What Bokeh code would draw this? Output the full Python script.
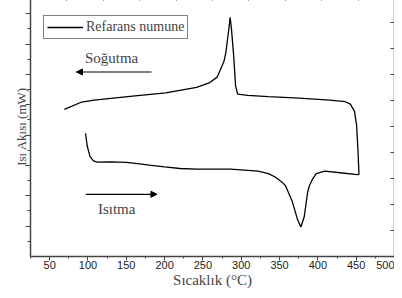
from bokeh.plotting import figure
from bokeh.models import (Range1d, LinearAxis, FixedTicker, Arrow, NormalHead,
                          Label, Legend, LegendItem, CustomJSTickFormatter)
from bokeh.embed import file_html
from bokeh.resources import INLINE

# ---- data ----
heat_x = [96.8, 99.0, 102.6, 107.0, 112.4, 130.0, 150.0, 165.0, 180.0, 200.0,
          220.0, 242.0, 285.9, 322.0, 335.4, 344.4, 353.2, 357.8, 366.6, 373.3,
          377.8, 382.2, 386.6, 388.9, 393.3, 397.9, 409.0, 429.1, 451.4, 453.6]
heat_y = [4.06, 3.64, 3.30, 3.15, 3.11, 3.12, 3.10, 3.06, 3.01, 2.95,
          2.90, 2.88, 2.88, 2.81, 2.73, 2.62, 2.45, 2.33, 1.81, 1.23,
          0.97, 1.31, 2.11, 2.33, 2.56, 2.73, 2.81, 2.76, 2.70, 2.71]
cool_x = [453.6, 452.3, 450.5, 447.8, 442.4, 435.8, 415.7, 375.5, 335.4, 308.6,
          295.3, 292.6, 290.0, 287.2, 285.5, 283.9, 281.9, 279.9, 277.5, 272.5,
          268.5, 259.1, 241.7, 201.6, 161.5, 108.0, 91.9, 69.2]
cool_y = [2.73, 3.52, 4.33, 4.78, 5.02, 5.10, 5.15, 5.22, 5.27, 5.31,
          5.35, 5.63, 6.66, 7.51, 7.88, 7.51, 7.11, 6.72, 6.43, 6.14,
          5.91, 5.73, 5.57, 5.39, 5.29, 5.15, 5.09, 4.85]
x_ticks = [50, 100, 150, 200, 250, 300, 350, 400, 450, 500]
x_minor = [25, 75, 125, 175, 225, 275, 325, 375, 425, 475]
series_label = "Refarans numune"

X_MIN, X_MAX = 25, 500
Y_MIN, Y_MAX = 0, 8.567

SERIF = "Liberation Serif"
SANS = "Liberation Sans"
AX = "#444444"
blank = CustomJSTickFormatter(code="return ''")

p = figure(width=402, height=298, x_range=Range1d(X_MIN, X_MAX),
           y_range=Range1d(Y_MIN, Y_MAX), output_backend="svg",
           toolbar_location=None, min_border_left=38, min_border_right=0,
           min_border_top=4, min_border_bottom=0)
p.styles = {"margin-top": "-8px", "margin-left": "-8px", "margin-bottom": "-8px"}
p.grid.visible = False
p.outline_line_color = None
p.background_fill_color = "white"

# bottom axis
xa = p.xaxis[0]
xa.ticker = FixedTicker(ticks=x_ticks, minor_ticks=x_minor)
xa.major_tick_in = 0
xa.major_tick_out = 4
xa.minor_tick_in = 0
xa.minor_tick_out = 2
xa.axis_line_color = AX
xa.axis_line_width = 1.5
xa.major_tick_line_color = AX
xa.minor_tick_line_color = AX
xa.major_label_text_font = SANS
xa.major_label_text_font_size = "11px"
xa.major_label_text_color = "#222222"
xa.major_label_standoff = 0
xa.axis_label = "Sıcaklık (°C)"
xa.axis_label_text_font = SERIF
xa.axis_label_text_font_style = "normal"
xa.axis_label_text_font_size = "15px"
xa.axis_label_standoff = 0

# left axis
ya = p.yaxis[0]
ya.ticker = FixedTicker(ticks=[1, 2, 3, 4, 5, 6, 7, 8],
                        minor_ticks=[0.5, 1.5, 2.5, 3.5, 4.5, 5.5, 6.5, 7.5, 8.5])
ya.formatter = blank
ya.major_tick_in = 0
ya.major_tick_out = 5
ya.minor_tick_in = 0
ya.minor_tick_out = 3
ya.axis_line_color = AX
ya.axis_line_width = 1.5
ya.major_tick_line_color = AX
ya.minor_tick_line_color = AX
ya.major_label_standoff = 0
ya.axis_label = "Isı Akısı (mW)"
ya.axis_label_text_font = SERIF
ya.axis_label_text_font_style = "normal"
ya.axis_label_text_font_size = "13px"
ya.axis_label_standoff = -3

# top axis
top_ticks = [X_MIN + (X_MAX - X_MIN) * k / 10 for k in range(1, 10)]
ta = LinearAxis(ticker=FixedTicker(ticks=top_ticks, minor_ticks=[]), formatter=blank,
                major_tick_in=4, major_tick_out=0, minor_tick_in=0, minor_tick_out=0,
                major_label_standoff=0,
                axis_line_color=AX, axis_line_width=1.5, major_tick_line_color=AX)
p.add_layout(ta, "above")

# right axis
right_ticks = [Y_MIN + (Y_MAX - Y_MIN) * k / 10 for k in range(1, 10)]
ra = LinearAxis(ticker=FixedTicker(ticks=right_ticks, minor_ticks=[]), formatter=blank,
                major_tick_in=4, major_tick_out=0, minor_tick_in=0, minor_tick_out=0,
                major_label_standoff=0,
                axis_line_color=AX, axis_line_width=1.5, major_tick_line_color=AX)
p.add_layout(ra, "right")

# curve
r = p.line(heat_x + cool_x, heat_y + cool_y, line_color="black", line_width=1.3)

legend = Legend(items=[LegendItem(label=series_label, renderers=[r])],
                location=(13, 217), margin=0, padding=3, spacing=0,
                glyph_width=36, glyph_height=12, label_height=12, label_standoff=3,
                label_text_font=SERIF, label_text_font_size="14px",
                label_text_line_height=0.9,
                border_line_color="black", border_line_width=1,
                background_fill_alpha=1)
p.add_layout(legend, "center")

# annotations
p.add_layout(Arrow(end=NormalHead(size=6, fill_color="black", line_color="black"),
                   x_start=183, y_start=6.08, x_end=85, y_end=6.08,
                   line_color="black", line_width=1.2))
p.add_layout(Label(x=96, y=6.55, text="Soğutma", text_font=SERIF,
                   text_font_size="15px", text_baseline="middle"))
p.add_layout(Arrow(end=NormalHead(size=6, fill_color="black", line_color="black"),
                   x_start=97, y_start=2.05, x_end=190, y_end=2.05,
                   line_color="black", line_width=1.2))
p.add_layout(Label(x=113, y=1.57, text="Isıtma", text_font=SERIF,
                   text_font_size="15px", text_baseline="middle"))

open("out.html", "w").write(file_html(p, INLINE))
